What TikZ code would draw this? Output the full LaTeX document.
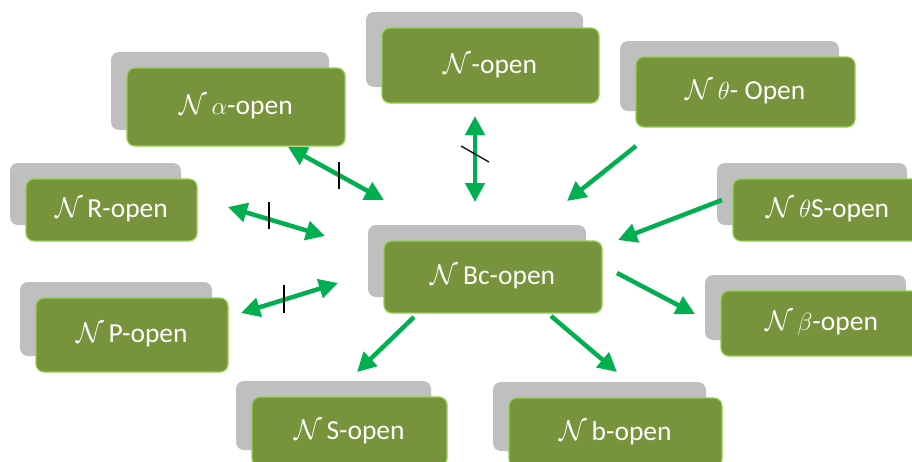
\documentclass[tikz,border=0pt]{standalone}
\usepackage{fontspec}
\setmainfont{Carlito}
\usetikzlibrary{arrows.meta,calc}
\definecolor{olive}{HTML}{77933C}
\definecolor{olivebd}{HTML}{92D050}
\definecolor{shade}{HTML}{BFBFBF}
\definecolor{arrgreen}{HTML}{00B050}
\newcommand{\NN}{\scalebox{1.15}{$\mathcal{N}$}}
\tikzset{
  gbox/.style={draw=olivebd, line width=1.2pt, fill=olive, rounded corners=8pt,
    text=white, font=\fontsize{27.5}{32}\selectfont, inner sep=0pt},
  graybox/.style={fill=shade, rounded corners=8pt, inner sep=0pt},
  conn/.style={draw=arrgreen, line width=4.5pt,
    -{Triangle[length=19pt,width=19pt]}},
  biconn/.style={draw=arrgreen, line width=4.5pt,
    {Triangle[length=19pt,width=19pt]}-{Triangle[length=19pt,width=19pt]}},
  tick/.style={draw=black, line width=1.3pt}
}
\newcommand{\pairbox}[5]{%
  \node[graybox, minimum width=#3pt, minimum height=#4pt] (#1g) at ($(#2)+(-16,-16)$) {};
  \node[gbox, minimum width=#3pt, minimum height=#4pt] (#1) at (#2) {#5};
}
\begin{document}
\begin{tikzpicture}[x=1pt,y=-1pt]
\useasboundingbox (0,0) rectangle (912,461);
\clip (0,0) rectangle (912,461);
\pairbox{na}{236,107}{218}{78}{\NN\,$\alpha$-open}
\pairbox{nn}{490.5,65.5}{217}{75}{\NN-open}
\pairbox{nth}{745.5,92}{219}{70}{\NN\,$\theta$- Open}
\pairbox{nr}{111.5,210}{171}{62}{\NN\,R-open}
\pairbox{np}{132,335}{192}{74}{\NN\,P-open}
\pairbox{nbc}{493,277}{218}{72}{\NN\,Bc-open}
\pairbox{nths}{828,210}{190}{62}{\NN\,$\theta$S-open}
\pairbox{nbe}{821.5,323.5}{201}{65}{\NN\,$\beta$-open}
\pairbox{ns}{349.5,431.5}{195}{69}{\NN\,S-open}
\pairbox{nb}{615.5,432.5}{213}{69}{\NN\,b-open}

% arrow end points
\coordinate (a1) at (288,147); \coordinate (a2) at (384,200);
\coordinate (n1) at (475,116); \coordinate (n2) at (475,202);
\coordinate (t1) at (636,146); \coordinate (t2) at (567,201);
\coordinate (r1) at (228,207); \coordinate (r2) at (325,236);
\coordinate (p1) at (241,313); \coordinate (p2) at (338,283);
\coordinate (s1) at (722,200); \coordinate (s2) at (618,240);
\coordinate (b1) at (617,273); \coordinate (b2) at (695,314);
\coordinate (o1) at (414,317); \coordinate (o2) at (357,372);
\coordinate (q1) at (551,316); \coordinate (q2) at (617,372);

\draw[biconn] (a1) -- (a2);
\draw[biconn] (n1) -- (n2);
\draw[conn] (t1) -- (t2);
\draw[biconn] (r1) -- (r2);
\draw[biconn] (p1) -- (p2);
\draw[conn] (s1) -- (s2);
\draw[conn] (b1) -- (b2);
\draw[conn] (o1) -- (o2);
\draw[conn] (q1) -- (q2);

% negation ticks
\coordinate (ta1) at (339,162); \coordinate (ta2) at (339,189);
\coordinate (tn1) at (461,146); \coordinate (tn2) at (489,162);
\coordinate (tr1) at (269,202); \coordinate (tr2) at (269,229);
\coordinate (tp1) at (284,285); \coordinate (tp2) at (284,313);
\draw[tick] (ta1) -- (ta2);
\draw[tick] (tn1) -- (tn2);
\draw[tick] (tr1) -- (tr2);
\draw[tick] (tp1) -- (tp2);
\end{tikzpicture}
\end{document}
